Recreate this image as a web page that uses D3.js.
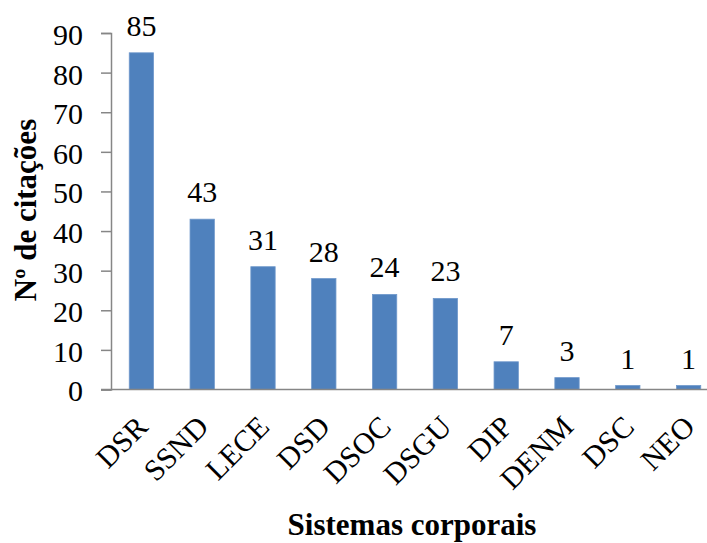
<!DOCTYPE html>
<html>
<head>
<meta charset="utf-8">
<script src="https://cdn.jsdelivr.net/npm/d3@7"></script>
<style>
  html, body { margin: 0; padding: 0; background: #fff; }
  svg { display: block; }
</style>
</head>
<body>
<svg id="chart" width="707" height="543"></svg>
<script>
// Citations per body system
const categories = ["DSR", "SSND", "LECE", "DSD", "DSOC", "DSGU", "DIP", "DENM", "DSC", "NEO"];
const citations = [85, 43, 31, 28, 24, 23, 7, 3, 1, 1];
const yTicks = [0, 10, 20, 30, 40, 50, 60, 70, 80, 90];
const xTitle = "Sistemas corporais";
const yTitle = "Nº de citações";

const serif = '"Liberation Serif"';
const svg = d3.select("#chart");
const plotLeft = 111, plotTop = 33, plotBottom = 389.5, plotRight = 719;

const x = d3.scaleBand().domain(categories).range([plotLeft, plotRight]).paddingInner(0.6).paddingOuter(0.3);
const y = d3.scaleLinear().domain([0, 90]).range([plotBottom, plotTop]);

const axisColor = "#868686";

// y axis
const yAxis = svg.append("g")
  .attr("transform", `translate(${plotLeft},0)`)
  .call(d3.axisLeft(y).tickValues(yTicks).tickSize(10).tickPadding(18).tickFormat(d3.format("d")));
yAxis.attr("font-family", null).attr("font-size", null);
yAxis.select(".domain").attr("stroke", axisColor).attr("stroke-width", 1.5);
yAxis.selectAll(".tick line").attr("stroke", axisColor).attr("stroke-width", 1.5);
yAxis.selectAll(".tick text")
  .style("font-family", serif).style("font-size", "30px").attr("fill", "#000")
  .attr("dy", "0.38em");

const rows = categories.map((c, i) => ({ c, v: citations[i] }));

// bars
svg.append("g").selectAll("rect")
  .data(rows)
  .join("rect")
  .attr("x", d => x(d.c))
  .attr("width", x.bandwidth())
  .attr("y", d => y(d.v))
  .attr("height", d => y(0) - y(d.v))
  .attr("fill", "#4f81bd")
  .attr("stroke", "#6f98cb")
  .attr("stroke-width", 0.8);

// x axis line
svg.append("line")
  .attr("x1", 101).attr("x2", 707)
  .attr("y1", plotBottom).attr("y2", plotBottom)
  .attr("stroke", axisColor).attr("stroke-width", 1.5);

// value labels
svg.append("g").selectAll("text")
  .data(rows)
  .join("text")
  .attr("x", d => x(d.c) + x.bandwidth() / 2)
  .attr("y", d => y(d.v) - 17)
  .attr("text-anchor", "middle")
  .style("font-family", serif).style("font-size", "30px")
  .text(d => d.v);

// category labels, rotated
svg.append("g").selectAll("text")
  .data(categories)
  .join("text")
  .attr("text-anchor", "end")
  .style("font-family", serif).style("font-size", "30px")
  .attr("transform", d => `translate(${x(d) + x.bandwidth() / 2 + 8},${plotBottom + 39}) rotate(-45)`)
  .text(d => d);

// axis titles
svg.append("text")
  .attr("x", 412).attr("y", 535)
  .attr("text-anchor", "middle")
  .style("font-family", serif).style("font-size", "31px").style("font-weight", "bold")
  .text(xTitle);

svg.append("text")
  .attr("transform", `translate(36,210) rotate(-90)`)
  .attr("text-anchor", "middle")
  .style("font-family", serif).style("font-size", "31px").style("font-weight", "bold")
  .text(yTitle);
</script>
</body>
</html>
